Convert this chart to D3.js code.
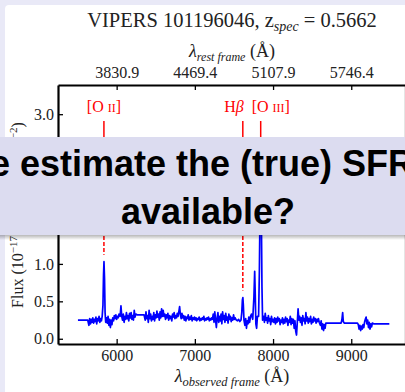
<!DOCTYPE html>
<html>
<head>
<meta charset="utf-8">
<title>VIPERS 101196046</title>
<style>
  body { margin: 0; background: #e9e9f7; }
  svg { display: block; }
  .serif { font-family: 'Liberation Serif', 'DejaVu Serif', serif; }
</style>
</head>
<body>
<script src="https://cdn.jsdelivr.net/npm/d3@7"></script>
<script>
var z = 0.5662;
var xTicks = [6000, 7000, 8000, 9000];
var yTicks = [0.0, 0.5, 1.0, 1.5, 2.0, 2.5, 3.0];
var restTickLabels = ['3830.9', '4469.4', '5107.9', '5746.4'];

// emission lines (rest frame, Angstrom)
var lineNames = ['O', 'H\u03b2', 'O'];
var lineIons = ['II', '', 'III'];
var lineRest = [3727, 4861, 5007];

// observed spectrum [wavelength, flux]
var spectrum = [
  [5505, 0.25], [5560, 0.25], [5630, 0.25],
  [5645, 0.18], [5655, 0.27], [5665, 0.20], [5675, 0.26], [5685, 0.22], [5695, 0.28],
  [5705, 0.21], [5715, 0.26], [5725, 0.23], [5735, 0.29], [5745, 0.20], [5755, 0.27],
  [5765, 0.24], [5775, 0.30], [5785, 0.22], [5795, 0.27], [5805, 0.24], [5815, 0.30],
  [5825, 0.45], [5832, 0.85], [5838, 1.03], [5845, 0.80], [5852, 0.35], [5860, 0.22],
  [5870, 0.28], [5880, 0.21], [5890, 0.30], [5900, 0.18], [5910, 0.26], [5920, 0.15],
  [5930, 0.25], [5940, 0.19], [5950, 0.28], [5960, 0.24], [5970, 0.31],
  [5980, 0.27], [5990, 0.32], [6000, 0.26], [6010, 0.30], [6020, 0.28], [6030, 0.33],
  [6045, 0.30], [6055, 0.44], [6065, 0.30], [6075, 0.25],
  [6085, 0.33], [6095, 0.22], [6105, 0.30], [6115, 0.26], [6125, 0.35], [6135, 0.27],
  [6145, 0.31], [6155, 0.24], [6165, 0.34], [6175, 0.28], [6185, 0.35], [6195, 0.26],
  [6205, 0.31], [6215, 0.25], [6225, 0.38], [6235, 0.29], [6245, 0.33],
  [6260, 0.32], [6350, 0.32],
  [6365, 0.25], [6375, 0.36], [6385, 0.27], [6395, 0.31], [6405, 0.22], [6415, 0.38],
  [6425, 0.27], [6435, 0.33], [6445, 0.24], [6455, 0.30], [6465, 0.26], [6475, 0.35],
  [6485, 0.24], [6495, 0.32], [6505, 0.28], [6515, 0.37], [6525, 0.29], [6535, 0.33],
  [6545, 0.25], [6555, 0.36], [6565, 0.28], [6575, 0.40], [6585, 0.30],
  [6595, 0.38], [6605, 0.30], [6615, 0.33], [6625, 0.26], [6635, 0.32], [6645, 0.28],
  [6655, 0.34], [6665, 0.25], [6675, 0.31], [6685, 0.27], [6695, 0.30], [6705, 0.24],
  [6715, 0.33], [6725, 0.29], [6735, 0.35], [6745, 0.27], [6755, 0.31], [6765, 0.28],
  [6775, 0.34], [6785, 0.30], [6795, 0.36], [6805, 0.43], [6815, 0.32],
  [6825, 0.27], [6835, 0.34], [6845, 0.28], [6855, 0.31], [6865, 0.25], [6875, 0.30],
  [6885, 0.24], [6895, 0.29], [6905, 0.27], [6915, 0.32], [6925, 0.25], [6935, 0.29],
  [6945, 0.26], [6955, 0.31], [6965, 0.24], [6975, 0.28],
  [6985, 0.26], [6995, 0.29], [7005, 0.25], [7015, 0.28], [7025, 0.24], [7035, 0.27],
  [7045, 0.26], [7055, 0.29], [7065, 0.24], [7075, 0.27], [7085, 0.25], [7095, 0.28],
  [7105, 0.26], [7115, 0.30], [7125, 0.24], [7135, 0.27], [7145, 0.25], [7155, 0.28],
  [7165, 0.26], [7175, 0.29], [7185, 0.24], [7195, 0.27], [7205, 0.25], [7215, 0.28],
  [7225, 0.26], [7235, 0.33], [7245, 0.22], [7255, 0.36], [7265, 0.25],
  [7275, 0.15], [7285, 0.28], [7295, 0.35], [7305, 0.22],
  [7315, 0.30], [7325, 0.24], [7335, 0.33], [7345, 0.20], [7355, 0.36], [7365, 0.26],
  [7375, 0.31], [7385, 0.22], [7395, 0.34], [7405, 0.25], [7415, 0.29], [7425, 0.21],
  [7435, 0.33], [7445, 0.26], [7455, 0.30], [7465, 0.23], [7475, 0.28], [7485, 0.25],
  [7495, 0.32], [7505, 0.26], [7515, 0.28],
  [7530, 0.25], [7545, 0.24], [7560, 0.26], [7575, 0.23], [7590, 0.25],
  [7600, 0.35], [7608, 0.52], [7614, 0.55], [7620, 0.45], [7628, 0.25],
  [7640, 0.18], [7650, 0.27], [7660, 0.14], [7670, 0.24], [7680, 0.20], [7690, 0.29],
  [7700, 0.22], [7712, 0.30], [7724, 0.33], [7740, 0.26],
  [7755, 0.55], [7765, 0.90], [7772, 0.60], [7780, 0.20], [7790, 0.14], [7800, 0.30],
  [7815, 0.30], [7825, 0.90], [7835, 1.90], [7842, 2.20], [7850, 1.70], [7858, 0.70],
  [7866, 0.25],
  [7880, 0.30], [7890, 0.22], [7900, 0.34], [7910, 0.25], [7920, 0.28], [7930, 0.21],
  [7940, 0.31], [7950, 0.24], [7960, 0.27], [7970, 0.19], [7980, 0.30], [7990, 0.23],
  [8000, 0.26], [8010, 0.22], [8020, 0.28], [8030, 0.20], [8040, 0.27],
  [8050, 0.22], [8060, 0.29], [8070, 0.24], [8080, 0.27], [8090, 0.19], [8100, 0.25],
  [8110, 0.22], [8120, 0.28], [8130, 0.20], [8140, 0.26], [8150, 0.21], [8160, 0.29],
  [8170, 0.23], [8180, 0.27], [8190, 0.18], [8200, 0.25], [8210, 0.22], [8220, 0.30],
  [8230, 0.19], [8240, 0.27], [8250, 0.21], [8260, 0.26], [8270, 0.14], [8280, 0.24],
  [8290, 0.10], [8300, 0.05], [8310, 0.22], [8320, 0.40], [8330, 0.25],
  [8340, 0.30], [8350, 0.22], [8360, 0.28], [8370, 0.18], [8380, 0.31], [8390, 0.24],
  [8400, 0.27], [8410, 0.20], [8420, 0.35], [8430, 0.24], [8440, 0.29], [8450, 0.21],
  [8460, 0.27], [8470, 0.23], [8480, 0.30], [8490, 0.20], [8500, 0.26], [8510, 0.22],
  [8520, 0.29], [8530, 0.24], [8540, 0.27], [8550, 0.21], [8560, 0.26], [8570, 0.23],
  [8580, 0.27], [8590, 0.22],
  [8605, 0.18], [8615, 0.24], [8625, 0.13], [8635, 0.20], [8645, 0.11], [8655, 0.19],
  [8665, 0.14], [8675, 0.21], [8690, 0.21], [8700, 0.21], [8870, 0.21],
  [8880, 0.25], [8890, 0.35], [8898, 0.23], [8910, 0.21], [9080, 0.21],
  [9090, 0.19], [9100, 0.13], [9110, 0.18], [9120, 0.11], [9130, 0.17], [9140, 0.13],
  [9150, 0.19], [9160, 0.15], [9170, 0.22], [9180, 0.26], [9190, 0.29], [9200, 0.20],
  [9210, 0.25], [9220, 0.15], [9230, 0.22], [9240, 0.13], [9250, 0.20], [9260, 0.16],
  [9270, 0.21], [9285, 0.20], [9400, 0.20], [9487, 0.20]
];

var w = 405;
var h = 392;
var plotLeft = 58, plotRight = 406, plotTop = 85, plotBottom = 344;
var bannerTop = 137, bannerBottom = 235;

var svg = d3.select('body').append('svg').attr('width', w).attr('height', h);

// slide page
svg.append('rect')
  .attr('x', 5).attr('y', 5)
  .attr('width', w).attr('height', h)
  .attr('rx', 4)
  .attr('fill', '#ffffff');

var xScale = d3.scaleLinear().domain([5250, 9700]).range([plotLeft, plotRight]);
var yScale = d3.scaleLinear().domain([-0.07, 3.39]).range([plotBottom, plotTop]);

// spectrum
var line = d3.line()
  .x(function(d) { return xScale(d[0]); })
  .y(function(d) { return yScale(d[1]); });

svg.append('path')
  .datum(spectrum)
  .attr('d', line)
  .attr('fill', 'none')
  .attr('stroke', '#0000ff')
  .attr('stroke-width', 1.7)
  .attr('stroke-linejoin', 'round');

// emission line markers
var labelAnchor = ['middle', 'end', 'start'];
var labelShift = [0, 1, -9];
lineRest.forEach(function(rest, i) {
  var obs = rest * (1 + z);
  var px = xScale(obs);
  var peak = d3.max(spectrum.filter(function(d) { return Math.abs(d[0] - obs) < 20; }),
    function(d) { return d[1]; });
  svg.append('line')
    .attr('x1', px).attr('x2', px)
    .attr('y1', 121).attr('y2', 140)
    .attr('stroke', '#ff0000').attr('stroke-width', 1.5);
  svg.append('line')
    .attr('x1', px).attr('x2', px)
    .attr('y1', 140).attr('y2', yScale(peak) - 7)
    .attr('stroke', '#ff0000').attr('stroke-width', 1.5)
    .attr('stroke-dasharray', '4,2');
  var t = svg.append('text')
    .attr('class', 'serif')
    .attr('x', px + labelShift[i]).attr('y', 112)
    .attr('text-anchor', labelAnchor[i])
    .attr('font-size', 16)
    .attr('fill', '#ff0000');
  if (lineIons[i]) {
    t.append('tspan').text('[' + lineNames[i] + ' ');
    t.append('tspan').attr('font-size', 12).text(lineIons[i]);
    t.append('tspan').text(']');
  } else {
    t.append('tspan').text('H');
    t.append('tspan').attr('font-style', 'italic').text('\u03b2');
  }
});

// axes
function styleAxis(g) {
  g.attr('font-family', null);
  g.selectAll('text')
    .attr('class', 'serif')
    .attr('font-size', 16)
    .attr('fill', '#222');
  g.select('.domain').attr('stroke-width', 2.2);
  g.selectAll('.tick line').attr('stroke-width', 1.3);
}

svg.append('g')
  .attr('transform', 'translate(0,' + plotBottom + ')')
  .call(d3.axisBottom(xScale).tickValues(xTicks).tickFormat(d3.format('d'))
    .tickSizeInner(-5).tickSizeOuter(0).tickPadding(6))
  .call(styleAxis);

svg.append('g')
  .attr('transform', 'translate(0,' + plotTop + ')')
  .call(d3.axisTop(xScale).tickValues(xTicks)
    .tickFormat(function(d, i) { return restTickLabels[i]; })
    .tickSizeInner(-5).tickSizeOuter(0).tickPadding(7))
  .call(styleAxis);

// y tick labels that sit under the slide banner are not visible
svg.append('g')
  .attr('transform', 'translate(' + plotLeft + ',0)')
  .call(d3.axisLeft(yScale).tickValues(yTicks)
    .tickFormat(function(d) {
      var py = yScale(d);
      return (py > bannerTop - 8 && py < bannerBottom + 8) ? '' : d3.format('.1f')(d);
    })
    .tickSizeInner(-5).tickSizeOuter(0).tickPadding(4))
  .call(styleAxis);

svg.append('line')
  .attr('x1', plotRight).attr('x2', plotRight)
  .attr('y1', plotTop).attr('y2', plotBottom)
  .attr('stroke', '#000').attr('stroke-width', 2.2);

// title and axis labels
var title = svg.append('text')
  .attr('class', 'serif')
  .attr('x', 232).attr('y', 27)
  .attr('text-anchor', 'middle')
  .attr('font-size', 20.5)
  .attr('fill', '#222');
title.append('tspan').text('VIPERS 101196046, z');
title.append('tspan').attr('font-size', 14).attr('font-style', 'italic').attr('dy', 4).text('spec');
title.append('tspan').attr('dy', -4).text(' = 0.5662');

var topLabel = svg.append('text')
  .attr('class', 'serif')
  .attr('x', 232).attr('y', 57)
  .attr('text-anchor', 'middle')
  .attr('font-size', 18)
  .attr('fill', '#222');
topLabel.append('tspan').attr('font-style', 'italic').text('\u03bb');
topLabel.append('tspan').attr('font-size', 12).attr('font-style', 'italic').attr('dy', 4).text('rest frame');
topLabel.append('tspan').attr('dy', -4).text(' (\u00c5)');

var bottomLabel = svg.append('text')
  .attr('class', 'serif')
  .attr('x', 232).attr('y', 382)
  .attr('text-anchor', 'middle')
  .attr('font-size', 18)
  .attr('fill', '#222');
bottomLabel.append('tspan').attr('font-style', 'italic').text('\u03bb');
bottomLabel.append('tspan').attr('font-size', 12.5).attr('font-style', 'italic').attr('dy', 4).text('observed frame');
bottomLabel.append('tspan').attr('dy', -4).text(' (\u00c5)');

var yLabel = svg.append('text')
  .attr('class', 'serif')
  .attr('transform', 'translate(23,215) rotate(-90)')
  .attr('text-anchor', 'middle')
  .attr('font-size', 16)
  .attr('fill', '#222');
yLabel.append('tspan').text('Flux (10');
yLabel.append('tspan').attr('font-size', 11).attr('dy', -6).text('\u221217');
yLabel.append('tspan').attr('dy', 6).text(' erg s');
yLabel.append('tspan').attr('font-size', 11).attr('dy', -6).text('\u22121');
yLabel.append('tspan').attr('dy', 6).text(' \u00c5');
yLabel.append('tspan').attr('font-size', 11).attr('dy', -6).text('\u22121');
yLabel.append('tspan').attr('dy', 6).text(' cm');
yLabel.append('tspan').attr('font-size', 11).attr('dy', -6).text('\u22122');
yLabel.append('tspan').attr('dy', 6).text(')');

// slide banner over the plot
var defs = svg.append('defs');
var grad = defs.append('linearGradient').attr('id', 'shadow')
  .attr('x1', 0).attr('y1', 0).attr('x2', 0).attr('y2', 1);
grad.append('stop').attr('offset', '0%').attr('stop-color', '#000').attr('stop-opacity', 0.28);
grad.append('stop').attr('offset', '100%').attr('stop-color', '#000').attr('stop-opacity', 0);

svg.append('rect')
  .attr('x', 0).attr('y', bannerBottom)
  .attr('width', w).attr('height', 5)
  .attr('fill', 'url(#shadow)');
svg.append('rect')
  .attr('x', 0).attr('y', bannerTop)
  .attr('width', w).attr('height', bannerBottom - bannerTop)
  .attr('fill', '#dcdcf0');

svg.append('text')
  .attr('x', -38).attr('y', 176)
  .attr('font-family', "'Liberation Sans', Arial, sans-serif")
  .attr('font-weight', 'bold')
  .attr('font-size', 36)
  .attr('fill', '#000')
  .text('we estimate the (true) SFR');
svg.append('text')
  .attr('x', 208).attr('y', 224)
  .attr('text-anchor', 'middle')
  .attr('font-family', "'Liberation Sans', Arial, sans-serif")
  .attr('font-weight', 'bold')
  .attr('font-size', 36)
  .attr('fill', '#000')
  .text('available?');
</script>
</body>
</html>
